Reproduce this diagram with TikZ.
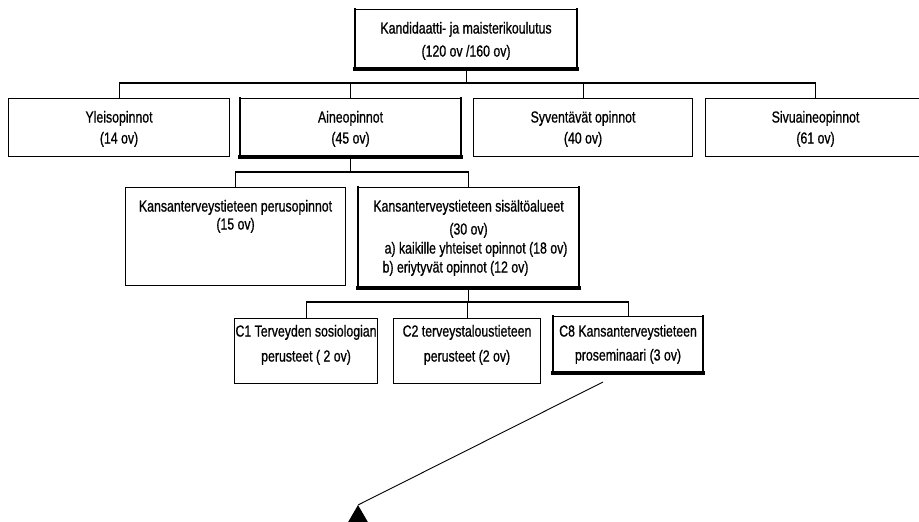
\documentclass[tikz,border=0pt]{standalone}
\usepackage{fontspec}
\setmainfont{Liberation Sans}[FakeStretch=0.77,FakeBold=0.8]
\newcommand{\boxtext}[5]{\parbox[c][#2][t]{#1}{\centering\fontsize{16}{#4}\selectfont\rule{0pt}{#3}#5}}
\begin{document}
\begin{tikzpicture}[x=1pt,y=-1pt,
  box/.style={draw=black, line width=1.1pt, inner sep=0pt, anchor=north west, fill=white},
  conn/.style={draw=black, line width=1.1pt},
  sideline/.style={line width=2.6pt, line cap=rect},
  baseline/.style={line width=4.2pt, line cap=rect},
  arrowline/.style={draw=black, line width=0.9pt}]
\useasboundingbox (0,0) rectangle (919,522);
\clip (0,0) rectangle (919,522);
% level 1
\node[box] (top) at (355,9) {\boxtext{221pt}{59pt}{24pt}{23pt}{Kandidaatti- ja maisterikoulutus\\(120 ov /160 ov)}};
% level 2
\node[box] (yleis) at (8,98) {\boxtext{221pt}{58pt}{24pt}{21pt}{Yleisopinnot\\(14 ov)}};
\node[box] (aine) at (240,98) {\boxtext{220pt}{58pt}{24pt}{21pt}{Aineopinnot\\(45 ov)}};
\node[box] (syv) at (473,98) {\boxtext{219pt}{58pt}{24pt}{21pt}{Syventävät opinnot\\(40 ov)}};
\node[box] (sivu) at (705,98) {\boxtext{220pt}{58pt}{24pt}{21pt}{Sivuaineopinnot\\(61 ov)}};
% level 3
\node[box] (perus) at (125,187) {\boxtext{220pt}{98pt}{24pt}{18pt}{Kansanterveystieteen perusopinnot\\(15 ov)}};
\node[box] (sis) at (358,187) {\boxtext{220pt}{100pt}{24pt}{19pt}{Kansanterveystieteen sisältöalueet\\[4pt](30 ov)\\\hspace*{15pt}a) kaikille yhteiset opinnot (18 ov)\\b) eriytyvät opinnot (12 ov)\hspace*{26pt}}};
% level 4
\node[box] (c1) at (234,318) {\boxtext{143pt}{65pt}{18pt}{25pt}{C1 Terveyden sosiologian\\perusteet ( 2 ov)}};
\node[box] (c2) at (393,318) {\boxtext{147pt}{65pt}{18pt}{25pt}{C2 terveystaloustieteen\\perusteet (2 ov)}};
\node[box] (c8) at (553,316) {\boxtext{149pt}{56pt}{20pt}{24pt}{C8 Kansanterveystieteen\\proseminaari (3 ov)}};
% heavy borders
\foreach \n in {top,aine,sis,c8}{
  \draw[sideline] (\n.north west) -- (\n.south west);
  \draw[sideline] (\n.north east) -- (\n.south east);
  \draw[baseline] (\n.south west) -- (\n.south east);
}
% connectors level 1-2
\draw[conn] (top.south) -- ++(0,15);
\draw[conn] (yleis.north) -- ++(0,-15) -| (sivu.north);
\draw[conn] (aine.north) -- ++(0,-15);
\draw[conn] (syv.north) -- ++(0,-15);
% level 2-3
\draw[conn] (aine.south) -- ++(0,16);
\draw[conn] (perus.north) -- ++(0,-15) -| (sis.north);
% level 3-4
\draw[conn] (sis.south) -- ++(0,15);
\draw[conn] (c1.north) -- ++(0,-16) -| (c8.north);
\draw[conn] (c2.north) -- ++(0,-16);
% arrow
\coordinate (astart) at (603,382);
\coordinate (apex) at (358,505);
\draw[arrowline] (astart) -- (apex);
\fill[black] (apex) -- ++(14.5,25) -- ++(-29,0) -- cycle;
\end{tikzpicture}
\end{document}
